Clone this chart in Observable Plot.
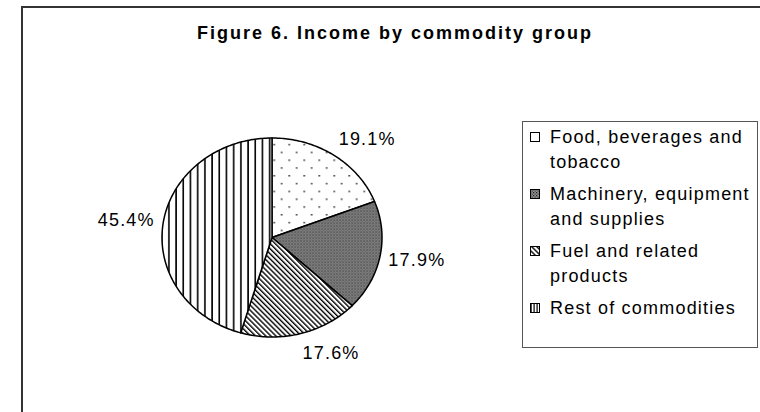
<!DOCTYPE html>
<html>
<head>
<meta charset="utf-8">
<script src="https://cdn.jsdelivr.net/npm/d3@7"></script>
<script src="https://cdn.jsdelivr.net/npm/@observablehq/plot@0.6"></script>
<style>
  html, body { margin: 0; padding: 0; background: #fff; }
  #stage { position: relative; width: 760px; height: 412px; overflow: hidden; background: #fff;
           font-family: "Liberation Sans", Arial, sans-serif; color: #000; }
  #frame { position: absolute; left: 21px; top: 6px; width: 900px; height: 600px;
           border-left: 2px solid #333; border-top: 2px solid #333; }
  #title { position: absolute; left: 194px; width: 402px; top: 24px; text-align: center;
           font-weight: bold; font-size: 18px; line-height: 18px; letter-spacing: 2px; white-space: nowrap; }
  #chart { position: absolute; left: 0; top: 0; }
  #chart text { letter-spacing: 1.2px; }
  #legend { position: absolute; left: 522px; top: 121px; width: 236px; height: 227px;
            border: 1px solid #555; box-sizing: border-box; padding: 2.5px 0 0 7px; }
  .item { display: flex; align-items: flex-start; margin-bottom: 7px; }
  .item svg { flex: none; margin-top: 7.5px; margin-right: 10px; }
  .item span { white-space: pre; font-size: 18px; line-height: 25px; letter-spacing: 1.2px; }
</style>
</head>
<body>
<div id="stage">
  <div id="frame"></div>
  <div id="title">Figure 6. Income by commodity group</div>
  <div id="chart"></div>
  <div id="legend"></div>
</div>
<svg width="0" height="0" style="position:absolute">
  <defs>
    <pattern id="pDots" width="15" height="15.6" patternUnits="userSpaceOnUse">
      <rect width="15" height="15.6" fill="#fff"/>
      <rect x="3" y="3" width="1.4" height="1.4" fill="#000"/>
      <rect x="10.5" y="10.8" width="1.4" height="1.4" fill="#000"/>
    </pattern>
    <pattern id="pGrid" width="3" height="3" patternUnits="userSpaceOnUse">
      <rect width="3" height="3" fill="#949494"/>
      <rect x="0" y="0" width="1.3" height="1.3" fill="#222"/>
      <rect x="1.5" y="1.5" width="1.3" height="1.3" fill="#444"/>
    </pattern>
    <pattern id="pDiag" width="3.6" height="3.6" patternUnits="userSpaceOnUse" patternTransform="rotate(-45)">
      <rect width="3.6" height="3.6" fill="#fff"/>
      <rect x="0" y="0" width="1.4" height="3.6" fill="#000"/>
    </pattern>
    <pattern id="pVert" width="7.2" height="7" patternUnits="userSpaceOnUse">
      <rect width="7.2" height="7" fill="#fff"/>
      <rect x="2" y="0" width="1.6" height="7" fill="#000"/>
    </pattern>
    <pattern id="pDotsL" width="4" height="4" patternUnits="userSpaceOnUse">
      <rect width="4" height="4" fill="#fff"/>
    </pattern>
    <pattern id="pVertL" width="3" height="3" patternUnits="userSpaceOnUse">
      <rect width="3" height="3" fill="#fff"/>
      <rect x="0.5" y="0" width="1.2" height="3" fill="#000"/>
    </pattern>
  </defs>
</svg>
<script>
// ---- data ----
const categories = ["Food, beverages and tobacco", "Machinery, equipment and supplies", "Fuel and related products", "Rest of commodities"];
const legendLabels = ["Food, beverages and\ntobacco", "Machinery, equipment\nand supplies", "Fuel and related\nproducts", "Rest of commodities"];
const shares = [19.1, 17.9, 17.6, 45.4];
const valueLabels = ["19.1%", "17.9%", "17.6%", "45.4%"];
const patterns = ["url(#pDots)", "url(#pGrid)", "url(#pDiag)", "url(#pVert)"];
const legendPatterns = ["url(#pDotsL)", "url(#pGrid)", "url(#pDiag)", "url(#pVertL)"];

// ---- geometry (ellipse in pixels) ----
const cx = 271.5, cy = 237, rx = 110, ry = 99.5;

const arcs = d3.pie().sort(null).value(d => d)(shares);

const points = [];
arcs.forEach((a, i) => {
  const cat = categories[i];
  points.push({cat, fill: patterns[i], x: 0, y: 0});
  const n = Math.max(4, Math.ceil((a.endAngle - a.startAngle) / (Math.PI / 180)));
  for (let k = 0; k <= n; k++) {
    const t = a.startAngle + (a.endAngle - a.startAngle) * k / n;
    points.push({cat, fill: patterns[i], x: Math.sin(t), y: Math.cos(t)});
  }
  points.push({cat, fill: patterns[i], x: 0, y: 0});
});

// outside-end labels: pixel offsets beyond the rim, converted to data units
const labels = arcs.map((a, i) => {
  const m = (a.startAngle + a.endAngle) / 2;
  const s = Math.sin(m), c = Math.cos(m);
  return {
    label: valueLabels[i],
    x: s + (28 * Math.sign(s) + 9 * s) / rx,
    y: c + (20 * c) / ry
  };
});

const chart = Plot.plot({
  width: 760,
  height: 412,
  margin: 0,
  x: {domain: [-1, 1], range: [cx - rx, cx + rx], axis: null},
  y: {domain: [-1, 1], range: [cy + ry, cy - ry], axis: null},
  color: {type: "identity"},
  style: {background: "transparent", fontFamily: "Liberation Sans, Arial, sans-serif"},
  marks: [
    Plot.line(points, {x: "x", y: "y", z: "cat", fill: "fill", stroke: "#000", strokeWidth: 1.5, strokeLinejoin: "round", curve: "linear"}),
    Plot.text(labels, {x: "x", y: "y", text: "label", fontSize: 18, fill: "#000", textAnchor: "middle", lineAnchor: "middle"})
  ]
});
document.getElementById("chart").appendChild(chart);

// ---- legend ----
const legend = d3.select("#legend");
categories.forEach((c, i) => {
  const item = legend.append("div").attr("class", "item");
  const sw = item.append("svg").attr("width", 10).attr("height", 10);
  sw.append("rect").attr("x", 0.5).attr("y", 0.5).attr("width", 9).attr("height", 9)
    .attr("fill", legendPatterns[i]).attr("stroke", "#000").attr("stroke-width", 1);
  item.append("span").text(legendLabels[i]);
});
</script>
</body>
</html>
